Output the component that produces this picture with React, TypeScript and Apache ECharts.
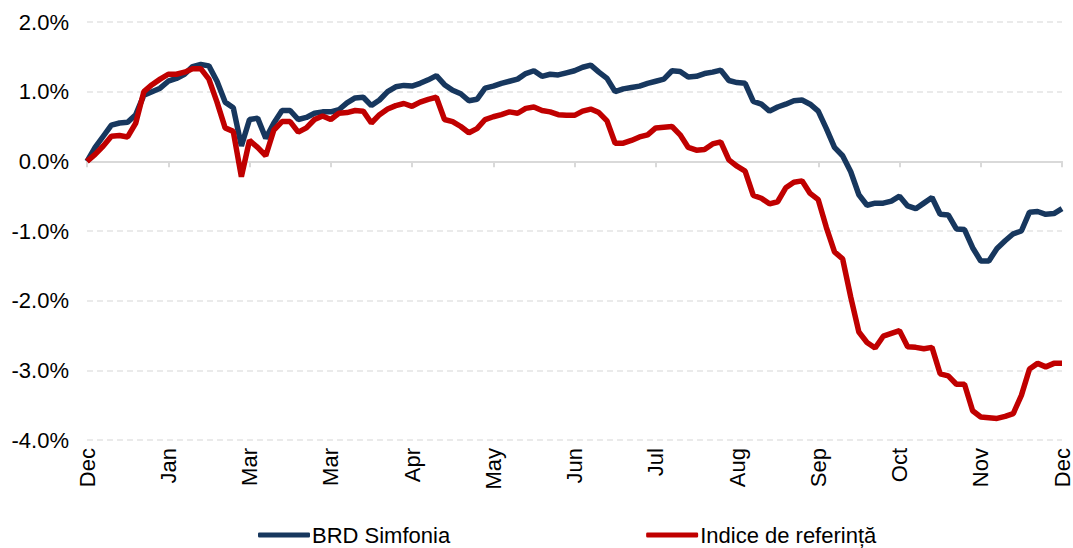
import React, { useEffect, useRef } from "react";
import * as echarts from "echarts";

const monthLabels = ["Dec", "Jan", "Mar", "Mar", "Apr", "May", "Jun", "Jul", "Aug", "Sep", "Oct", "Nov", "Dec"];
const yTicks = [-4, -3, -2, -1, 0, 1, 2];
const seriesNames = ["BRD Simfonia", "Indice de referință"];

const brdSimfonia = [
  0, 0.2, 0.36, 0.52, 0.55, 0.56, 0.67, 0.95, 1.0, 1.05,
  1.15, 1.19, 1.25, 1.36, 1.39, 1.37, 1.15, 0.85, 0.77, 0.22,
  0.6, 0.62, 0.33, 0.55, 0.73, 0.73, 0.6, 0.63, 0.69, 0.71,
  0.71, 0.74, 0.84, 0.91, 0.92, 0.8, 0.88, 1.0, 1.07, 1.09,
  1.08, 1.12, 1.17, 1.23, 1.1, 1.02, 0.97, 0.87, 0.89, 1.05,
  1.08, 1.12, 1.15, 1.18, 1.26, 1.3, 1.22, 1.25, 1.24, 1.27,
  1.3, 1.35, 1.38, 1.28, 1.19, 1.0, 1.04, 1.06, 1.08, 1.12,
  1.15, 1.18, 1.3, 1.29, 1.21, 1.22, 1.26, 1.28, 1.31, 1.16,
  1.13, 1.12, 0.86, 0.82, 0.72, 0.78, 0.82, 0.87, 0.88, 0.82,
  0.72, 0.47, 0.2, 0.08, -0.15, -0.48, -0.63, -0.6, -0.6, -0.57,
  -0.5, -0.64, -0.68, -0.6, -0.52, -0.76, -0.77, -0.97, -0.98, -1.24,
  -1.43, -1.43, -1.25, -1.14, -1.04, -1.0, -0.73, -0.72, -0.76, -0.75,
  -0.68,
];

const indiceReferinta = [
  0, 0.1, 0.22, 0.36, 0.37, 0.35, 0.55, 1.0, 1.1, 1.18,
  1.25, 1.25, 1.28, 1.33, 1.33, 1.18, 0.85, 0.48, 0.43, -0.22,
  0.3, 0.2, 0.08, 0.45, 0.57, 0.57, 0.42, 0.48, 0.6, 0.65,
  0.6, 0.69, 0.7, 0.73, 0.72, 0.55, 0.67, 0.75, 0.8, 0.83,
  0.79, 0.85, 0.89, 0.92, 0.6, 0.57, 0.5, 0.41, 0.47, 0.6,
  0.64, 0.67, 0.71, 0.69, 0.76, 0.78, 0.73, 0.71, 0.67, 0.66,
  0.66, 0.72, 0.75, 0.7, 0.58, 0.26, 0.26, 0.3, 0.35, 0.38,
  0.48, 0.49, 0.5, 0.38, 0.2, 0.16, 0.17, 0.25, 0.28, 0.02,
  -0.07, -0.14, -0.49, -0.53, -0.61, -0.58, -0.38, -0.3, -0.28, -0.46,
  -0.55, -0.95, -1.3, -1.4, -1.95, -2.45, -2.6, -2.68, -2.51, -2.47,
  -2.43, -2.66, -2.67, -2.69, -2.67, -3.05, -3.08, -3.2, -3.2, -3.58,
  -3.67, -3.68, -3.69, -3.66, -3.62, -3.36, -2.98, -2.9, -2.95, -2.9,
  -2.9,
];

const pointsPerMonth = 10;

export default function App() {
  const ref = useRef<HTMLDivElement>(null);
  useEffect(() => {
    if (!ref.current) return;
    const chart = echarts.init(ref.current, undefined, { renderer: "svg" });
    const font = "Arial, 'Liberation Sans', sans-serif";
    const maxX = (monthLabels.length - 1) * pointsPerMonth;
    const xBase = {
      type: "value" as const,
      min: 0,
      max: maxX,
      interval: pointsPerMonth,
      splitLine: { show: false },
    };
    chart.setOption({
      animation: false,
      backgroundColor: "#ffffff",
      grid: { left: 87, right: 2, top: 22, bottom: 108, containLabel: false },
      xAxis: [
        {
          ...xBase,
          position: "bottom",
          axisLine: { show: false, onZero: false },
          axisTick: { show: false },
          axisLabel: {
            rotate: 90,
            margin: 8,
            fontSize: 22,
            fontFamily: font,
            color: "#000000",
            showMinLabel: true,
            showMaxLabel: true,
            formatter: (v: number) => monthLabels[Math.round(v / pointsPerMonth)] ?? "",
          },
        },
        {
          ...xBase,
          position: "bottom",
          axisLine: { show: true, onZero: true, lineStyle: { color: "#d9d9d9", width: 2 } },
          axisTick: { show: true, length: 6, lineStyle: { color: "#d9d9d9", width: 2 } },
          axisLabel: { show: false },
        },
      ],
      yAxis: {
        type: "value",
        min: yTicks[0],
        max: yTicks[yTicks.length - 1],
        interval: 1,
        axisLine: { show: false },
        axisTick: { show: false },
        axisLabel: {
          margin: 18,
          fontSize: 22,
          fontFamily: font,
          color: "#000000",
          formatter: (v: number) => v.toFixed(1) + "%",
        },
        splitLine: { show: true, lineStyle: { color: "#e3e3e3", width: 1.5, type: [6, 4] } },
      },
      legend: {
        left: 253,
        top: 519,
        icon: "roundRect",
        itemWidth: 52,
        itemHeight: 5,
        itemGap: 196,
        textStyle: { fontSize: 22, fontFamily: font, color: "#000000", padding: [0, 0, 0, -3] },
        data: seriesNames,
      },
      series: [
        {
          name: seriesNames[0],
          type: "line",
          xAxisIndex: 0,
          showSymbol: false,
          symbol: "none",
          lineStyle: { color: "#17375E", width: 5.5 },
          itemStyle: { color: "#17375E" },
          data: brdSimfonia.map((v, i) => [i, v]),
          z: 3,
        },
        {
          name: seriesNames[1],
          type: "line",
          xAxisIndex: 0,
          showSymbol: false,
          symbol: "none",
          lineStyle: { color: "#C00000", width: 5.5 },
          itemStyle: { color: "#C00000" },
          data: indiceReferinta.map((v, i) => [i, v]),
          z: 4,
        },
      ],
    });
    return () => chart.dispose();
  }, []);
  return (
    <div
      ref={ref}
      style={{ position: "fixed", left: 0, top: 0, width: 1073, height: 548 }}
    />
  );
}
